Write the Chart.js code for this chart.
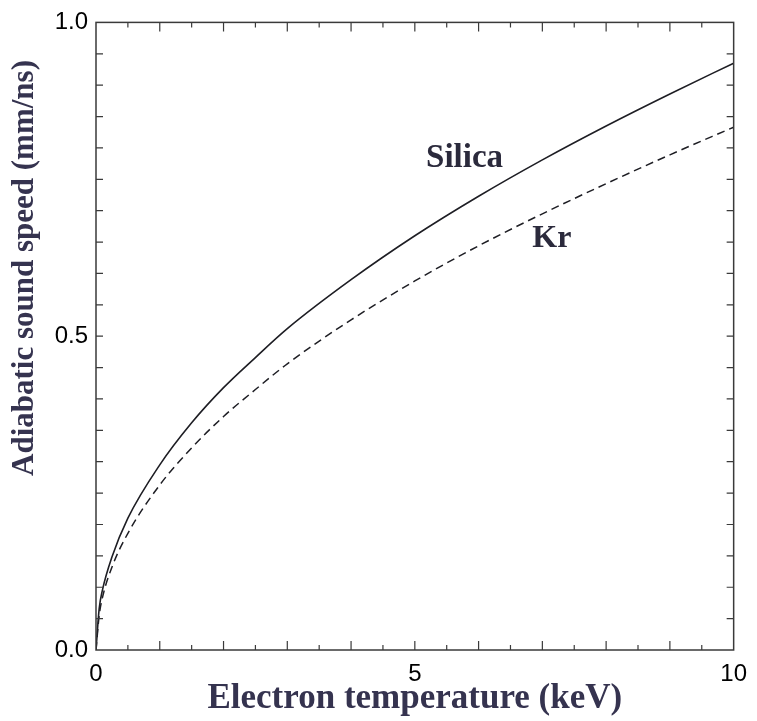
<!DOCTYPE html>
<html>
<head>
<meta charset="utf-8">
<script src="https://cdn.jsdelivr.net/npm/chart.js@4/dist/chart.umd.min.js"></script>
<style>
	body { margin: 0; background: #fff; }
	#wrap { width: 757px; height: 721px; position: relative; }
</style>
</head>
<body>
<div id="wrap"><canvas id="chart"></canvas></div>
<script>
// electron temperature (keV)
const temps = [0, 0.05, 0.1, 0.25, 0.5, 1, 1.5, 2, 2.5, 3, 4, 5, 6, 7, 8, 9, 10];
// adiabatic sound speed (mm/ns)
const silica = [0, 0.066, 0.095, 0.148, 0.21, 0.295, 0.362, 0.418, 0.466, 0.512, 0.59, 0.66, 0.723, 0.781, 0.835, 0.886, 0.935];
const kr = [0, 0.055, 0.083, 0.132, 0.186, 0.263, 0.322, 0.372, 0.415, 0.456, 0.526, 0.588, 0.644, 0.695, 0.743, 0.789, 0.833];

const xTickLabels = [0, 5, 10];
const yTickLabels = [0, 0.5, 1];

// curve names written next to each line, in data units
const curveLabels = [
	{ text: 'Silica', x: 5.78, y: 0.783, size: 33 },
	{ text: 'Kr', x: 7.15, y: 0.656, size: 32 },
];

const titleColor = '#35334f';
const inkColor = '#1e1e24';

const toPoints = (ys) => temps.map((t, i) => ({ x: t, y: ys[i] }));

// box round the plot with inward ticks on all four sides
const frameTicks = {
	id: 'frameTicks',
	afterDraw(chart) {
		const { ctx, chartArea: a, scales } = chart;
		const sx = scales.x;
		const sy = scales.y;
		ctx.save();
		ctx.strokeStyle = '#3a3a3a';
		ctx.lineWidth = 1.5;
		ctx.strokeRect(a.left, a.top, a.right - a.left, a.bottom - a.top);

		ctx.lineWidth = 1.2;
		ctx.beginPath();
		for (let i = 1; i < 20; i++) {
			const px = sx.getPixelForValue(i * 0.5);
			const len = i % 2 === 0 ? 9 : 5;
			ctx.moveTo(px, a.bottom);
			ctx.lineTo(px, a.bottom - len);
			ctx.moveTo(px, a.top);
			ctx.lineTo(px, a.top + len);
		}
		for (let i = 1; i < 20; i++) {
			const py = sy.getPixelForValue(i * 0.05);
			ctx.moveTo(a.left, py);
			ctx.lineTo(a.left + 7, py);
			ctx.moveTo(a.right, py);
			ctx.lineTo(a.right - 7, py);
		}
		ctx.stroke();
		ctx.restore();
	},
};

// y axis title and the curve names
const textLayer = {
	id: 'textLayer',
	afterDraw(chart) {
		const { ctx, scales } = chart;
		ctx.save();
		ctx.font = 'bold 31px "Liberation Serif", "Times New Roman", serif';
		ctx.textAlign = 'center';
		ctx.textBaseline = 'middle';

		ctx.fillStyle = titleColor;
		ctx.save();
		ctx.translate(25, 268);
		ctx.rotate(-Math.PI / 2);
		ctx.fillText('Adiabatic sound speed (mm/ns)', 0, 0);
		ctx.restore();

		ctx.fillStyle = '#2b2a3c';
		curveLabels.forEach((l) => {
			ctx.font = 'bold ' + l.size + 'px "Liberation Serif", "Times New Roman", serif';
			ctx.fillText(l.text, scales.x.getPixelForValue(l.x), scales.y.getPixelForValue(l.y));
		});
		ctx.restore();
	},
};

new Chart(document.getElementById('chart'), {
	type: 'line',
	data: {
		datasets: [
			{
				label: 'Silica',
				data: toPoints(silica),
				borderColor: inkColor,
				borderWidth: 1.6,
				pointRadius: 0,
				cubicInterpolationMode: 'monotone',
				fill: false,
			},
			{
				label: 'Kr',
				data: toPoints(kr),
				borderColor: inkColor,
				borderWidth: 1.5,
				borderDash: [8, 5],
				pointRadius: 0,
				cubicInterpolationMode: 'monotone',
				fill: false,
			},
		],
	},
	options: {
		responsive: true,
		maintainAspectRatio: false,
		animation: false,
		layout: {
			padding: { top: 20, right: 21, left: 0, bottom: 0 },
		},
		plugins: {
			legend: { display: false },
			tooltip: { enabled: false },
		},
		scales: {
			x: {
				type: 'linear',
				min: 0,
				max: 10,
				afterFit: (s) => { s.height = 71; },
				afterBuildTicks: (s) => { s.ticks = xTickLabels.map((v) => ({ value: v })); },
				grid: { display: false, drawTicks: false },
				border: { display: false },
				ticks: {
					padding: 10,
					color: '#000',
					font: { family: '"Liberation Sans", Arial, sans-serif', size: 24 },
					callback: (v) => String(v),
				},
				title: {
					display: true,
					text: 'Electron temperature (keV)',
					color: titleColor,
					font: { family: '"Liberation Serif", "Times New Roman", serif', size: 35, weight: 'bold' },
					padding: { top: 0, bottom: 1 },
				},
			},
			y: {
				type: 'linear',
				min: 0,
				max: 1,
				afterFit: (s) => { s.width = 96; },
				afterBuildTicks: (s) => { s.ticks = yTickLabels.map((v) => ({ value: v })); },
				grid: { display: false, drawTicks: false },
				border: { display: false },
				ticks: {
					padding: 8,
					color: '#000',
					font: { family: '"Liberation Sans", Arial, sans-serif', size: 24 },
					callback: (v) => v.toFixed(1),
				},
			},
		},
	},
	plugins: [frameTicks, textLayer],
});
</script>
</body>
</html>
